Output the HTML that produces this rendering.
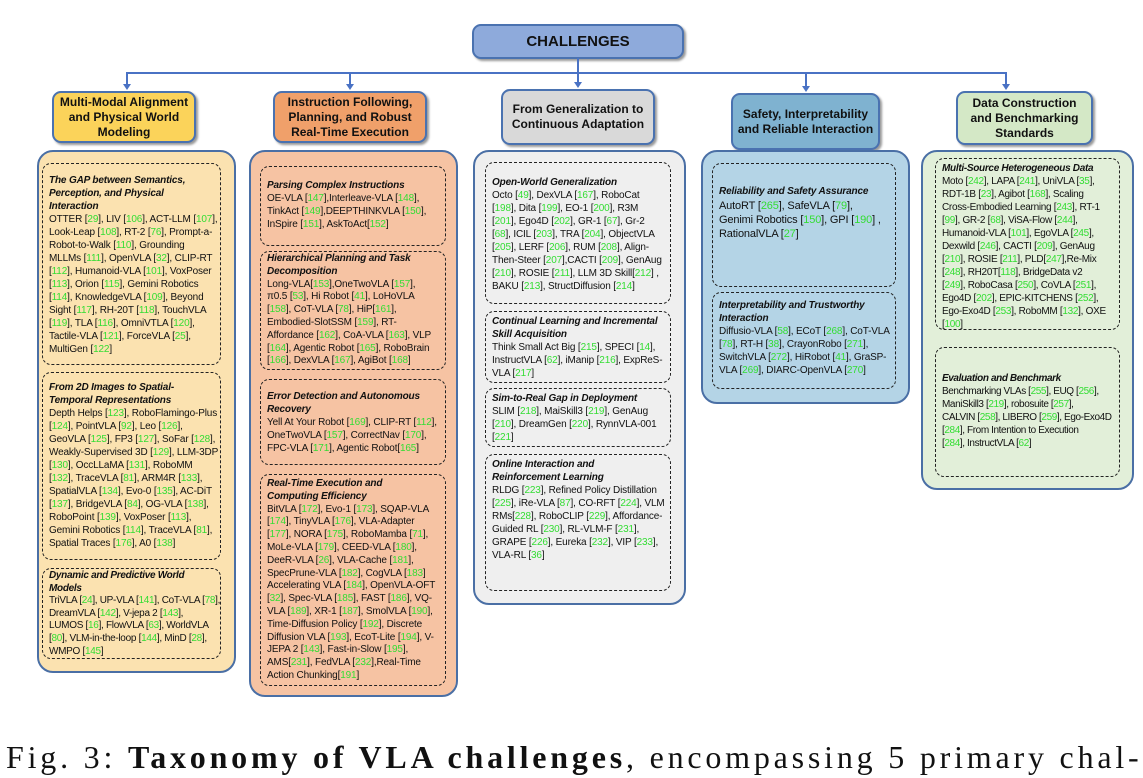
<!DOCTYPE html>
<html><head><meta charset="utf-8">
<style>
body{margin:0;width:1143px;height:778px;background:#fff;position:relative;overflow:hidden;font-family:"Liberation Sans",sans-serif;}
.a{position:absolute;box-sizing:border-box;}
.hdr{border:2px solid #4a72b0;border-radius:9px;font-weight:bold;font-size:12px;display:flex;align-items:center;justify-content:center;text-align:center;line-height:15px;color:#111;box-shadow:2px 2px 2px #999;}
.pan{border:2px solid #4a6fa5;border-radius:16px;}
.box{border:1.2px dashed #222;border-radius:9px;font-size:10px;line-height:13px;padding:4px 6px;white-space:nowrap;color:#111;letter-spacing:-0.15px;}
.box b{font-style:italic;}
.g{color:#33dd33;}
.ln{position:absolute;background:#4a72c4;}
.ar{position:absolute;width:0;height:0;border-left:4px solid transparent;border-right:4px solid transparent;border-top:6px solid #4a72c4;}
</style></head><body>
<div class="a hdr" style="left:472px;top:24px;width:212px;height:35px;background:#8eaadb;font-size:15px;">CHALLENGES</div>
<div class="ln" style="left:577px;top:58px;width:2px;height:16px"></div>
<div class="ln" style="left:126px;top:72px;width:881px;height:2px"></div>
<div class="ln" style="left:126px;top:72px;width:2px;height:13px"></div><div class="ar" style="left:123px;top:84px"></div>
<div class="ln" style="left:349px;top:72px;width:2px;height:13px"></div><div class="ar" style="left:346px;top:84px"></div>
<div class="ln" style="left:577px;top:72px;width:2px;height:11px"></div><div class="ar" style="left:574px;top:82px"></div>
<div class="ln" style="left:805px;top:72px;width:2px;height:15px"></div><div class="ar" style="left:802px;top:86px"></div>
<div class="ln" style="left:1005px;top:72px;width:2px;height:13px"></div><div class="ar" style="left:1002px;top:84px"></div>

<div class="a hdr" style="left:52px;top:91px;width:144px;height:52px;background:#fbd35a;">Multi-Modal Alignment<br>and Physical World<br>Modeling</div>
<div class="a hdr" style="left:273px;top:91px;width:154px;height:52px;background:#f0a06a;">Instruction Following,<br>Planning, and Robust<br>Real-Time Execution</div>
<div class="a hdr" style="left:501px;top:89px;width:154px;height:56px;background:#d9d9d9;">From Generalization to<br>Continuous Adaptation</div>
<div class="a hdr" style="left:731px;top:93px;width:149px;height:57px;background:#7fb2d0;">Safety, Interpretability<br>and Reliable Interaction</div>
<div class="a hdr" style="left:956px;top:91px;width:137px;height:54px;background:#d4e8c6;">Data Construction<br>and Benchmarking<br>Standards</div>

<div class="a pan" style="left:37px;top:150px;width:199px;height:523px;background:#fbe2b0;"></div>
<div class="a pan" style="left:249px;top:150px;width:209px;height:547px;background:#f6c3a3;"></div>
<div class="a pan" style="left:473px;top:150px;width:213px;height:455px;background:#efefef;"></div>
<div class="a pan" style="left:701px;top:150px;width:209px;height:254px;background:#b4d4e6;"></div>
<div class="a pan" style="left:921px;top:150px;width:213px;height:340px;background:#e2efd9;"></div>

<div class="a box" style="left:42px;top:163px;width:179px;height:202px;padding-top:10px"><b>The GAP between Semantics,<br>Perception, and Physical<br>Interaction</b><br>OTTER [29], LIV [106], ACT-LLM [107],<br>Look-Leap [108], RT-2 [76], Prompt-a-<br>Robot-to-Walk [110], Grounding<br>MLLMs [111], OpenVLA [32], CLIP-RT<br>[112], Humanoid-VLA [101], VoxPoser<br>[113], Orion [115], Gemini Robotics<br>[114], KnowledgeVLA [109], Beyond<br>Sight [117], RH-20T [118], TouchVLA<br>[119], TLA [116], OmniVTLA [120],<br>Tactile-VLA [121], ForceVLA [25],<br>MultiGen [122]</div>
<div class="a box" style="left:42px;top:372px;width:179px;height:188px;padding-top:8px"><b>From 2D Images to Spatial-<br>Temporal Representations</b><br>Depth Helps [123], RoboFlamingo-Plus<br>[124], PointVLA [92], Leo [126],<br>GeoVLA [125], FP3 [127], SoFar [128],<br>Weakly-Supervised 3D [129], LLM-3DP<br>[130], OccLLaMA [131], RoboMM<br>[132], TraceVLA [81], ARM4R [133],<br>SpatialVLA [134], Evo-0 [135], AC-DiT<br>[137], BridgeVLA [84], OG-VLA [138],<br>RoboPoint [139], VoxPoser [113],<br>Gemini Robotics [114], TraceVLA [81],<br>Spatial Traces [176], A0 [138]</div>
<div class="a box" style="left:42px;top:568px;width:179px;height:91px;padding-top:1px;line-height:12.6px;letter-spacing:-0.3px"><b>Dynamic and Predictive World<br>Models</b><br>TriVLA [24], UP-VLA [141], CoT-VLA [78],<br>DreamVLA [142], V-jepa 2 [143],<br>LUMOS [16], FlowVLA [63], WorldVLA<br>[80], VLM-in-the-loop [144], MinD [28],<br>WMPO [145]</div>

<div class="a box" style="left:260px;top:166px;width:186px;height:80px;padding-top:12px"><b>Parsing Complex Instructions</b><br>OE-VLA [147],Interleave-VLA [148],<br>TinkAct [149],DEEPTHINKVLA [150],<br>InSpire [151], AskToAct[152]</div>
<div class="a box" style="left:260px;top:251px;width:186px;height:119px;padding-top:1px;line-height:12.8px"><b>Hierarchical Planning and Task<br>Decomposition</b><br>Long-VLA[153],OneTwoVLA [157],<br>π0.5 [53], Hi Robot [41], LoHoVLA<br>[158], CoT-VLA [78], HiP[161],<br>Embodied-SlotSSM [159], RT-<br>Affordance [162], CoA-VLA [163], VLP<br>[164], Agentic Robot [165], RoboBrain<br>[166], DexVLA [167], AgiBot [168]</div>
<div class="a box" style="left:260px;top:379px;width:186px;height:86px;padding-top:10px"><b>Error Detection and Autonomous<br>Recovery</b><br>Yell At Your Robot [169], CLIP-RT [112],<br>OneTwoVLA [157], CorrectNav [170],<br>FPC-VLA [171], Agentic Robot[165]</div>
<div class="a box" style="left:260px;top:474px;width:186px;height:212px;padding-top:3px;line-height:12.8px"><b>Real-Time Execution and<br>Computing Efficiency</b><br>BitVLA [172], Evo-1 [173], SQAP-VLA<br>[174], TinyVLA [176], VLA-Adapter<br>[177], NORA [175], RoboMamba [71],<br>MoLe-VLA [179], CEED-VLA [180],<br>DeeR-VLA [26], VLA-Cache [181],<br>SpecPrune-VLA [182], CogVLA [183]<br>Accelerating VLA [184], OpenVLA-OFT<br>[32], Spec-VLA [185], FAST [186], VQ-<br>VLA [189], XR-1 [187], SmolVLA [190],<br>Time-Diffusion Policy [192], Discrete<br>Diffusion VLA [193], EcoT-Lite [194], V-<br>JEPA 2 [143], Fast-in-Slow [195],<br>AMS[231], FedVLA [232],Real-Time<br>Action Chunking[191]</div>

<div class="a box" style="left:485px;top:162px;width:186px;height:142px;padding-top:13px"><b>Open-World Generalization</b><br>Octo [49], DexVLA [167], RoboCat<br>[198], Dita [199], EO-1 [200], R3M<br>[201], Ego4D [202], GR-1 [67], Gr-2<br>[68], ICIL [203], TRA [204], ObjectVLA<br>[205], LERF [206], RUM [208], Align-<br>Then-Steer [207],CACTI [209], GenAug<br>[210], ROSIE [211], LLM 3D Skill[212] ,<br>BAKU [213], StructDiffusion [214]</div>
<div class="a box" style="left:485px;top:311px;width:186px;height:72px;padding-top:3px"><b>Continual Learning and Incremental<br>Skill Acquisition</b><br>Think Small Act Big [215], SPECI [14],<br>InstructVLA [62], iManip [216], ExpReS-<br>VLA [217]</div>
<div class="a box" style="left:485px;top:388px;width:186px;height:59px;padding-top:3px"><b>Sim-to-Real Gap in Deployment</b><br>SLIM [218], MaiSkill3 [219], GenAug<br>[210], DreamGen [220], RynnVLA-001<br>[221]</div>
<div class="a box" style="left:485px;top:454px;width:186px;height:137px;padding-top:3px"><b>Online Interaction and<br>Reinforcement Learning</b><br>RLDG [223], Refined Policy Distillation<br>[225], iRe-VLA [87], CO-RFT [224], VLM<br>RMs[228], RoboCLIP [229], Affordance-<br>Guided RL [230], RL-VLM-F [231],<br>GRAPE [226], Eureka [232], VIP [233],<br>VLA-RL [36]</div>

<div class="a box" style="left:712px;top:163px;width:184px;height:124px;padding-top:20px;font-size:11px;line-height:14px"><b style="font-size:10px">Reliability and Safety Assurance</b><br>AutoRT [265], SafeVLA [79],<br>Genimi Robotics [150], GPI [190] ,<br>RationalVLA [27]</div>
<div class="a box" style="left:712px;top:292px;width:184px;height:97px;padding-top:6px"><b>Interpretability and Trustworthy<br>Interaction</b><br>Diffusio-VLA [58], ECoT [268], CoT-VLA<br>[78], RT-H [38], CrayonRobo [271],<br>SwitchVLA [272], HiRobot [41], GraSP-<br>VLA [269], DIARC-OpenVLA [270]</div>

<div class="a box" style="left:935px;top:158px;width:185px;height:172px;padding-top:3px;letter-spacing:-0.3px"><b>Multi-Source Heterogeneous Data</b><br>Moto [242], LAPA [241], UniVLA [35],<br>RDT-1B [23], Agibot [168], Scaling<br>Cross-Embodied Learning [243], RT-1<br>[99], GR-2 [68], ViSA-Flow [244],<br>Humanoid-VLA [101], EgoVLA [245],<br>Dexwild [246], CACTI [209], GenAug<br>[210], ROSIE [211], PLD[247],Re-Mix<br>[248], RH20T[118], BridgeData v2<br>[249], RoboCasa [250], CoVLA [251],<br>Ego4D [202], EPIC-KITCHENS [252],<br>Ego-Exo4D [253], RoboMM [132], OXE<br>[100]</div>
<div class="a box" style="left:935px;top:347px;width:185px;height:130px;padding-top:24px;letter-spacing:-0.4px"><b>Evaluation and Benchmark</b><br>Benchmarking VLAs [255], EUQ [256],<br>ManiSkill3 [219], robosuite [257],<br>CALVIN [258], LIBERO [259], Ego-Exo4D<br>[284], From Intention to Execution<br>[284], InstructVLA [62]</div>

<div class="a" style="left:6px;top:739px;font-family:'Liberation Serif',serif;font-size:32px;letter-spacing:3.8px;white-space:nowrap;color:#111;">Fig. 3: <b>Taxonomy of VLA challenges</b>, encompassing 5 primary chal-</div>
<script>
document.querySelectorAll('.box').forEach(function(b){b.innerHTML=b.innerHTML.replace(/\[(\d+)\]/g,'[<span class="g">$1</span>]');});
</script>
</body></html>
